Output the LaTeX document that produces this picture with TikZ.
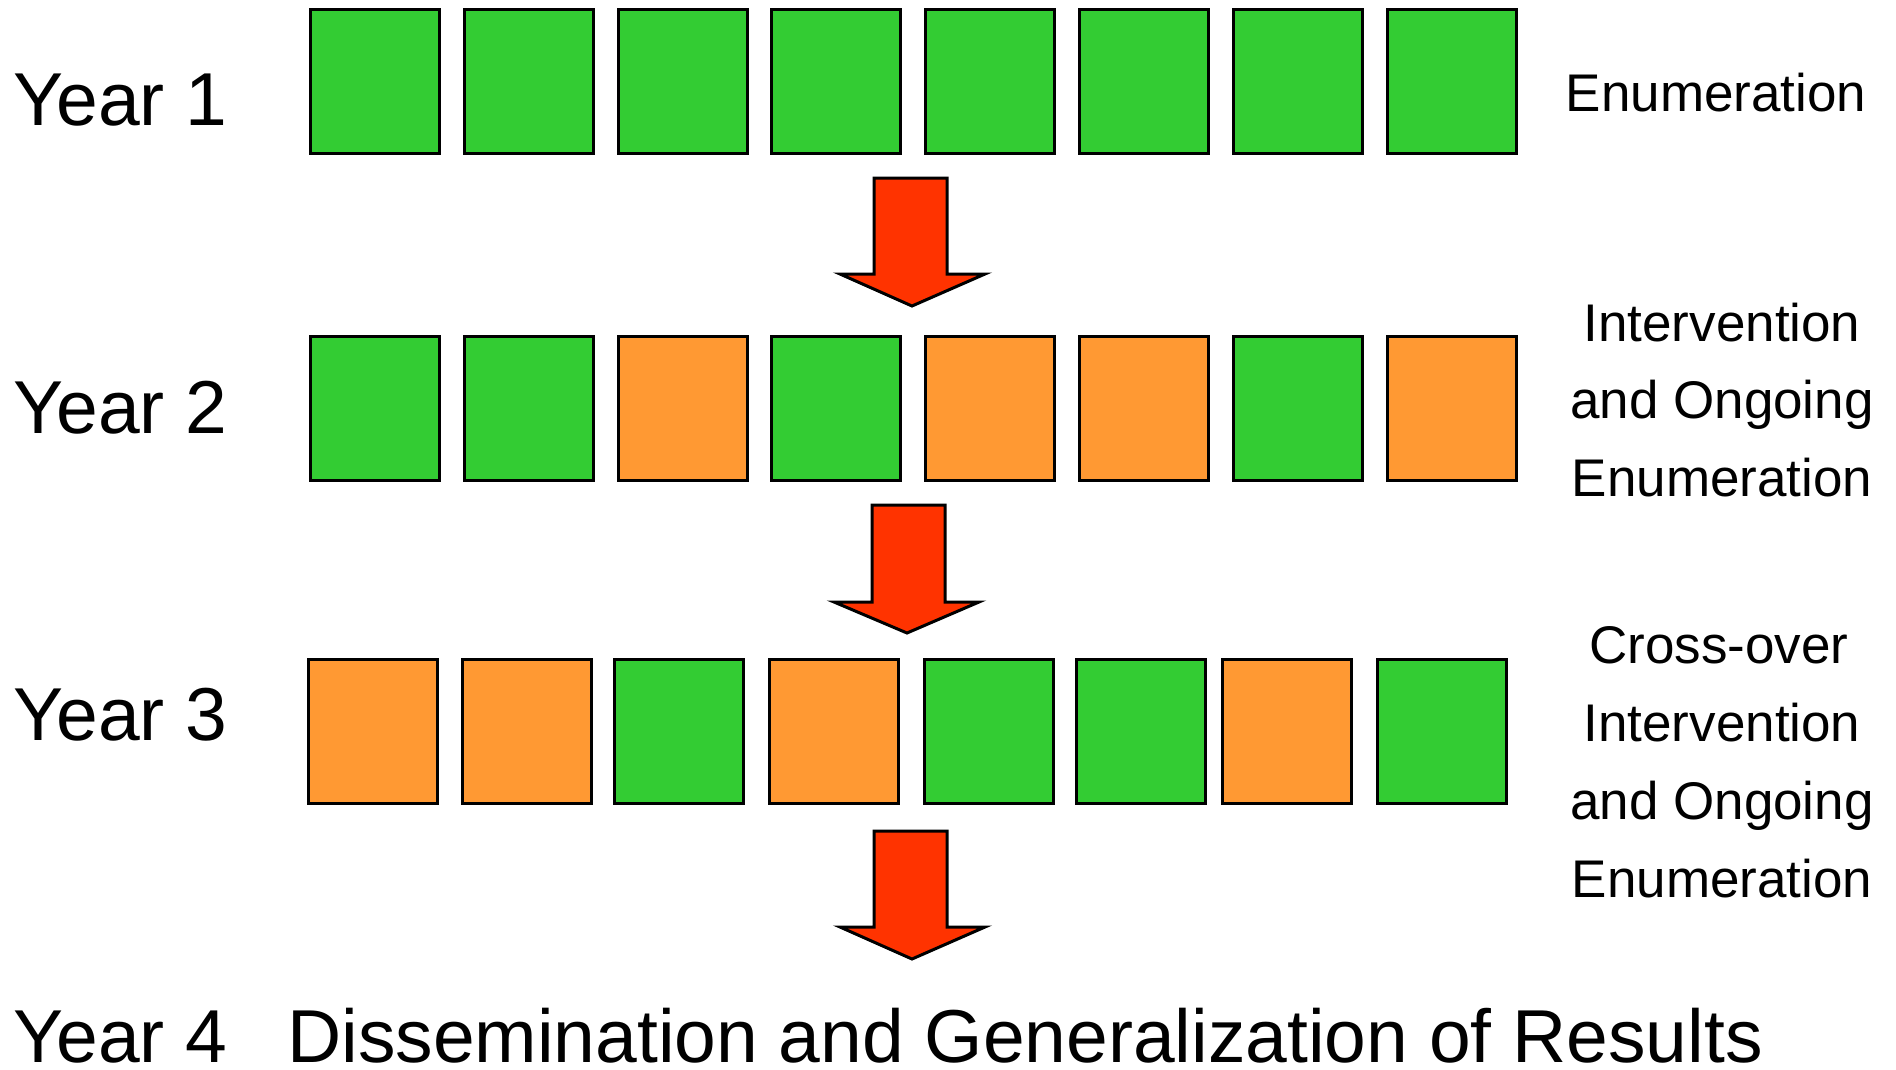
\documentclass[tikz,border=0pt]{standalone}
\usepackage{fontspec}
\setmainfont{Liberation Sans}
\definecolor{cg}{HTML}{33CC33}
\definecolor{co}{HTML}{FF9933}
\definecolor{cr}{HTML}{FF3300}
\begin{document}
\begin{tikzpicture}[x=1pt,y=-1pt,
  cell/.style={draw=black,line width=3pt,minimum width=129pt,minimum height=144pt,anchor=north west,inner sep=0pt},
  yr/.style={anchor=base west,font=\fontsize{75}{80}\selectfont,inner sep=0pt,text depth=0pt},
  lab/.style={anchor=base,font=\fontsize{53}{60}\selectfont,inner sep=0pt},
  blk/.style={fill=cr,draw=black,line width=3pt,line join=miter}]
\path[use as bounding box] (0,0) rectangle (1896,1069);
% row 1
\foreach \c [count=\i from 0] in {cg,cg,cg,cg,cg,cg,cg,cg}
  \node[cell,fill=\c] (a\i) at ({309+153.8*\i},8) {};
% row 2
\foreach \c [count=\i from 0] in {cg,cg,co,cg,co,co,cg,co}
  \node[cell,fill=\c] (b\i) at ({309+153.8*\i},335) {};
% row 3
\foreach \x/\c [count=\i from 0] in {307/co,461/co,613/cg,768/co,923/cg,1075/cg,1221/co,1376/cg}
  \node[cell,fill=\c] (c\i) at (\x,658) {};
% arrows
\draw[blk] (874,178) -- (947,178) -- (947,274) -- (985,274) -- (912,306) -- (840,274) -- (874,274) -- cycle;
\draw[blk] (872,505) -- (945,505) -- (945,602) -- (979,602) -- (907,633) -- (834,602) -- (872,602) -- cycle;
\draw[blk] (874,831) -- (947,831) -- (947,927) -- (985,927) -- (912,959) -- (840,927) -- (874,927) -- cycle;
% year labels
\node[yr] (y1) at (13,125) {Year 1};
\node[yr] (y2) at (13,433) {Year 2};
\node[yr] (y3) at (13,740) {Year 3};
\node[yr] (y4) at (13,1062) {Year 4};
\node[yr] (res) at (287,1062) {Dissemination and Generalization of Results};
% right labels
\node[lab] (l1) at (1716,111) {Enumeration};
\node[lab] (l2a) at (1722,341) {Intervention};
\node[lab] (l2b) at (1722,418) {and Ongoing};
\node[lab] (l2c) at (1722,496) {Enumeration};
\node[lab] (l3a) at (1719,663) {Cross-over};
\node[lab] (l3b) at (1722,741) {Intervention};
\node[lab] (l3c) at (1722,819) {and Ongoing};
\node[lab] (l3d) at (1722,897) {Enumeration};
\end{tikzpicture}
\end{document}
